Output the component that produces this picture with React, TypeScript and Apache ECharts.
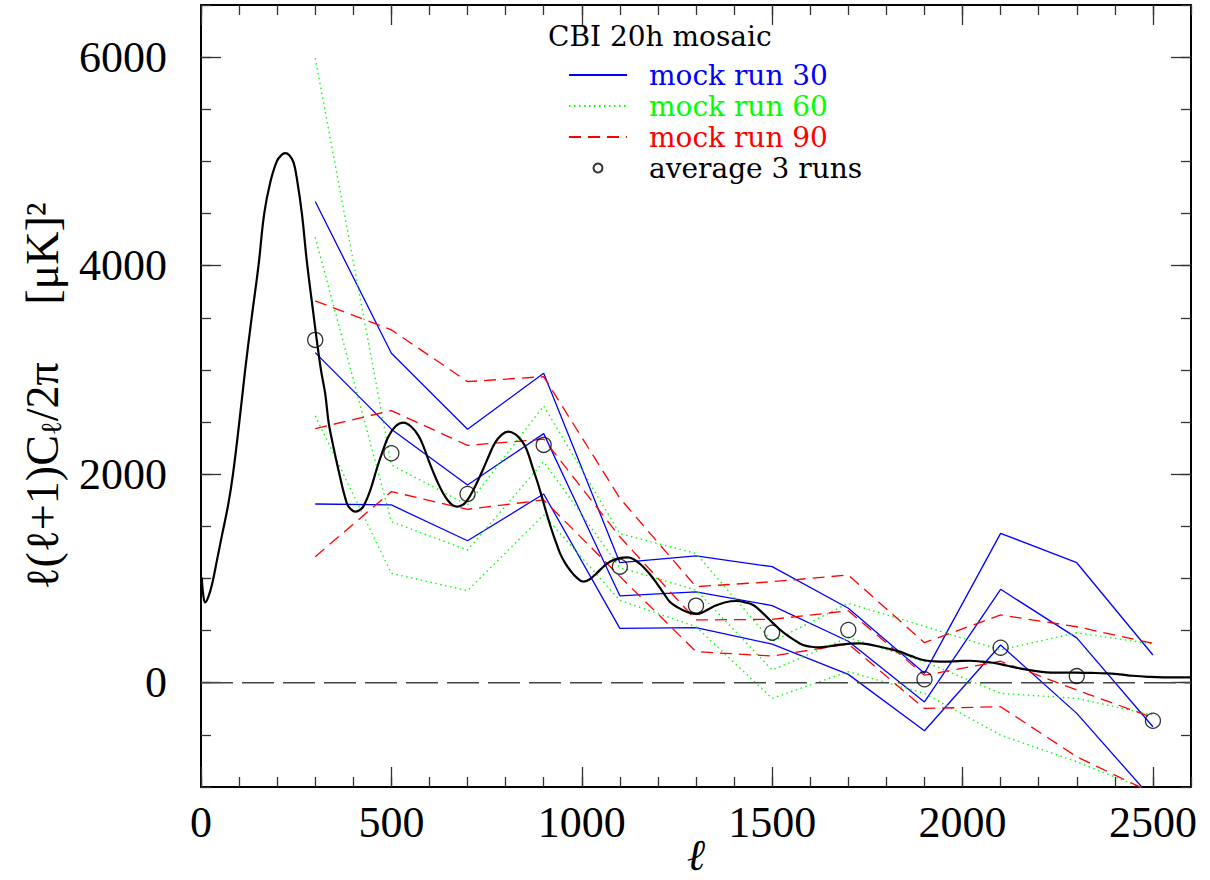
import React, { useEffect, useRef } from 'react';
import * as echarts from 'echarts';

// band centres (multipole l)
const ELL = [300, 500, 700, 900, 1100, 1300, 1500, 1700, 1900, 2100, 2300, 2500];

// mock run 30 (blue): upper, estimate, lower
const RUN30_HI = [4615, 3160, 2431, 2968, 1151, 1216, 1113, 714, 90, 1433, 1151, 266];
const RUN30_MID = [3166, 2432, 1897, 2389, 834, 872, 740, 398, -184, 896, 430, -422];
const RUN30_LO = [1714, 1705, 1362, 1810, 522, 528, 371, 80, -461, 362, -294, -1120];

// mock run 60 (green)
const RUN60_HI = [5990, 2089, 1705, 2655, 1430, 1240, 394, 762, 541, 314, 480, 371];
const RUN60_MID = [4273, 1545, 1273, 2120, 1105, 889, 122, 434, 202, -102, -150, -310];
const RUN60_LO = [2559, 1049, 883, 1609, 790, 537, -150, 106, -102, -502, -758, -1050];

// mock run 90 (red)
const RUN90_HI = [3662, 3384, 2888, 2936, 1770, 921, 969, 1033, 384, 650, 537, 378];
const RUN90_MID = [2437, 2610, 2276, 2336, 1400, 602, 608, 690, 72, 206, -70, -335];
const RUN90_LO = [1209, 1833, 1663, 1753, 1020, 298, 256, 371, -246, -230, -710, -1060];

// average of the 3 runs
const AVG = [3288, 2201, 1810, 2281, 1113, 739, 480, 506, 33, 336, 64, -365];

// theory power spectrum
const THEORY_ELL = [2, 6, 11, 20, 30, 42, 56, 72, 84, 100, 116, 133, 151, 166, 182, 199, 211, 221, 232, 243, 252, 265, 278, 295, 304, 315, 326, 335, 344, 361, 383, 395, 405, 415, 426, 444, 462, 477, 492, 511, 531, 551, 571, 585, 597, 610, 623, 637, 650, 661, 672, 683, 693, 708, 724, 740, 755, 772, 790, 807, 825, 840, 851, 860, 873, 884, 895, 908, 921, 932, 943, 956, 969, 986, 1004, 1020, 1039, 1056, 1074, 1098, 1122, 1142, 1161, 1179, 1197, 1214, 1231, 1253, 1275, 1302, 1323, 1345, 1375, 1407, 1430, 1450, 1472, 1494, 1516, 1538, 1560, 1581, 1603, 1625, 1651, 1678, 1704, 1730, 1757, 1783, 1809, 1835, 1866, 1896, 1927, 1958, 1988, 2019, 2050, 2080, 2115, 2150, 2185, 2220, 2260, 2299, 2340, 2378, 2413, 2447, 2487, 2526, 2560, 2600];
const THEORY_VAL = [1010, 840, 770, 830, 960, 1176, 1430, 1719, 2000, 2480, 3000, 3500, 4000, 4500, 4800, 5000, 5060, 5080, 5060, 4990, 4830, 4500, 4040, 3544, 3288, 3000, 2777, 2500, 2328, 2041, 1721, 1660, 1641, 1652, 1689, 1840, 2057, 2220, 2360, 2460, 2495, 2460, 2370, 2260, 2140, 2020, 1910, 1810, 1740, 1703, 1689, 1700, 1721, 1800, 1913, 2040, 2168, 2300, 2380, 2408, 2385, 2330, 2270, 2190, 2041, 1920, 1785, 1620, 1465, 1350, 1241, 1150, 1081, 1010, 969, 990, 1050, 1110, 1161, 1195, 1203, 1170, 1113, 1040, 953, 865, 777, 720, 681, 659, 685, 729, 770, 784, 770, 745, 680, 601, 525, 458, 405, 362, 345, 340, 350, 365, 375, 378, 365, 345, 322, 298, 255, 218, 205, 202, 207, 211, 203, 192, 165, 138, 116, 100, 97, 96, 94, 90, 80, 67, 57, 52, 52, 52];

const ZERO_X = [0, 2600];
const X_MAJOR = [0, 500, 1000, 1500, 2000, 2500];
const Y_MAJOR = [0, 2000, 4000, 6000];

const X_MIN = 0;
const X_MAX = 2600;
const Y_MIN = -1000;
const Y_MAX = 6500;

const TICK_FONT = 'Liberation Serif';
const LEG_FONT = 'DejaVu Serif';

const BLUE = '#0000ff';
const GREEN = '#00ff00';
const RED = '#ff0000';

const plain = (v: number) => String(v);

function pairs(xs: number[], ys: number[]) {
  return xs.map((x, i) => [x, ys[i]]);
}

function mock(name: string, ys: number[], color: string, type: any, width: number) {
  return {
    type: 'line',
    name,
    data: pairs(ELL, ys),
    symbol: 'none',
    showSymbol: false,
    silent: true,
    lineStyle: { color, width, type },
    itemStyle: { color },
    z: 2,
  };
}

function xAxis(position: 'top' | 'bottom', major: boolean, withLabels: boolean) {
  return {
    type: 'value',
    position,
    min: X_MIN,
    max: X_MAX,
    interval: 100,
    splitLine: { show: false },
    axisLine: { show: !major, onZero: false, lineStyle: { color: '#000', width: 2 } },
    axisTick: major
      ? { show: true, inside: true, length: 20, customValues: X_MAJOR, lineStyle: { color: '#333', width: 1.3 } }
      : { show: true, inside: true, length: 10, lineStyle: { color: '#333', width: 1.3 } },
    axisLabel: withLabels
      ? { show: true, customValues: X_MAJOR, formatter: plain, margin: 13, fontFamily: TICK_FONT, fontSize: 44, color: '#000' }
      : { show: false },
    ...(withLabels
      ? {
          name: 'ℓ',
          nameLocation: 'middle',
          nameGap: 46,
          nameMoveOverlap: false,
          nameTextStyle: { fontFamily: TICK_FONT, fontSize: 44, color: '#000', fontStyle: 'italic', lineHeight: 44 },
        }
      : {}),
  };
}

function yAxis(position: 'left' | 'right', major: boolean, withLabels: boolean) {
  return {
    type: 'value',
    position,
    min: Y_MIN,
    max: Y_MAX,
    interval: 500,
    splitLine: { show: false },
    axisLine: { show: !major, onZero: false, lineStyle: { color: '#000', width: 2 } },
    axisTick: major
      ? { show: true, inside: true, length: 20, customValues: Y_MAJOR, lineStyle: { color: '#333', width: 1.3 } }
      : { show: true, inside: true, length: 10, lineStyle: { color: '#333', width: 1.3 } },
    axisLabel: withLabels
      ? { show: true, customValues: Y_MAJOR, formatter: plain, margin: 34, fontFamily: TICK_FONT, fontSize: 44, color: '#000' }
      : { show: false },
    ...(withLabels
      ? {
          name: '{a|ℓ(ℓ+1)C}{s|ℓ}{a|/2π     [μK]²}',
          nameLocation: 'middle',
          nameGap: 136,
          nameRotate: 90,
          nameMoveOverlap: false,
          nameTextStyle: {
            color: '#000',
            rich: {
              a: { fontFamily: TICK_FONT, fontSize: 46, color: '#000', lineHeight: 46 },
              s: { fontFamily: TICK_FONT, fontSize: 29, color: '#000', verticalAlign: 'bottom', lineHeight: 46 },
            },
          },
        }
      : {}),
  };
}

export default function App() {
  const ref = useRef<HTMLDivElement>(null);

  useEffect(() => {
    if (!ref.current) return;
    const chart = echarts.init(ref.current, undefined, { renderer: 'svg' });

    const series: any[] = [
      mock('mock run 30', RUN30_HI, BLUE, 'solid', 1.3),
      mock('mock run 30', RUN30_MID, BLUE, 'solid', 1.3),
      mock('mock run 30', RUN30_LO, BLUE, 'solid', 1.3),
      mock('mock run 60', RUN60_HI, GREEN, [1.5, 3.5], 1.4),
      mock('mock run 60', RUN60_MID, GREEN, [1.5, 3.5], 1.4),
      mock('mock run 60', RUN60_LO, GREEN, [1.5, 3.5], 1.4),
      mock('mock run 90', RUN90_HI, RED, [12, 7], 1.3),
      mock('mock run 90', RUN90_MID, RED, [12, 7], 1.3),
      mock('mock run 90', RUN90_LO, RED, [12, 7], 1.3),
      {
        type: 'line',
        name: 'zero',
        data: ZERO_X.map((x) => [x, 0]),
        symbol: 'none',
        silent: true,
        lineStyle: { color: '#444', width: 1.5, type: [32, 9] },
        z: 2,
      },
      {
        type: 'line',
        name: 'theory',
        data: pairs(THEORY_ELL, THEORY_VAL),
        smooth: 0.4,
        symbol: 'none',
        showSymbol: false,
        silent: true,
        lineStyle: { color: '#000', width: 2.2 },
        z: 3,
      },
      {
        type: 'scatter',
        name: 'average 3 runs',
        data: pairs(ELL, AVG),
        symbol: 'circle',
        symbolSize: 15,
        silent: true,
        itemStyle: { color: 'rgba(0,0,0,0)', borderColor: '#000', borderWidth: 1.3 },
        z: 4,
      },
    ];

    const hideDot = { color: 'rgba(0,0,0,0)', borderWidth: 0, opacity: 0 };

    chart.setOption({
      animation: false,
      backgroundColor: '#ffffff',
      title: {
        text: 'CBI 20h mosaic',
        left: 548,
        top: 22,
        padding: 0,
        textStyle: { fontFamily: LEG_FONT, fontSize: 28, fontWeight: 'normal', color: '#000', lineHeight: 28 },
      },
      legend: {
        show: true,
        orient: 'vertical',
        left: 568,
        top: 61,
        padding: 0,
        itemWidth: 58,
        itemHeight: 9,
        itemGap: 3,
        selectedMode: false,
        textStyle: { fontFamily: LEG_FONT, fontSize: 28, lineHeight: 28, padding: [0, 0, 0, 17] },
        data: [
          { name: 'mock run 30', textStyle: { color: BLUE }, itemStyle: hideDot },
          { name: 'mock run 60', textStyle: { color: GREEN }, itemStyle: hideDot },
          { name: 'mock run 90', textStyle: { color: RED }, itemStyle: hideDot },
          { name: 'average 3 runs', textStyle: { color: '#000' } },
        ],
      },
      grid: { left: 201, right: 19, top: 5, bottom: 93, containLabel: false, outerBoundsMode: 'none' },
      xAxis: [xAxis('bottom', false, true), xAxis('bottom', true, false), xAxis('top', false, false), xAxis('top', true, false)],
      yAxis: [yAxis('left', false, true), yAxis('left', true, false), yAxis('right', false, false), yAxis('right', true, false)],
      series,
    });

    return () => chart.dispose();
  }, []);

  return <div ref={ref} style={{ position: 'fixed', left: 0, top: 0, width: 1210, height: 880, background: '#fff' }} />;
}
